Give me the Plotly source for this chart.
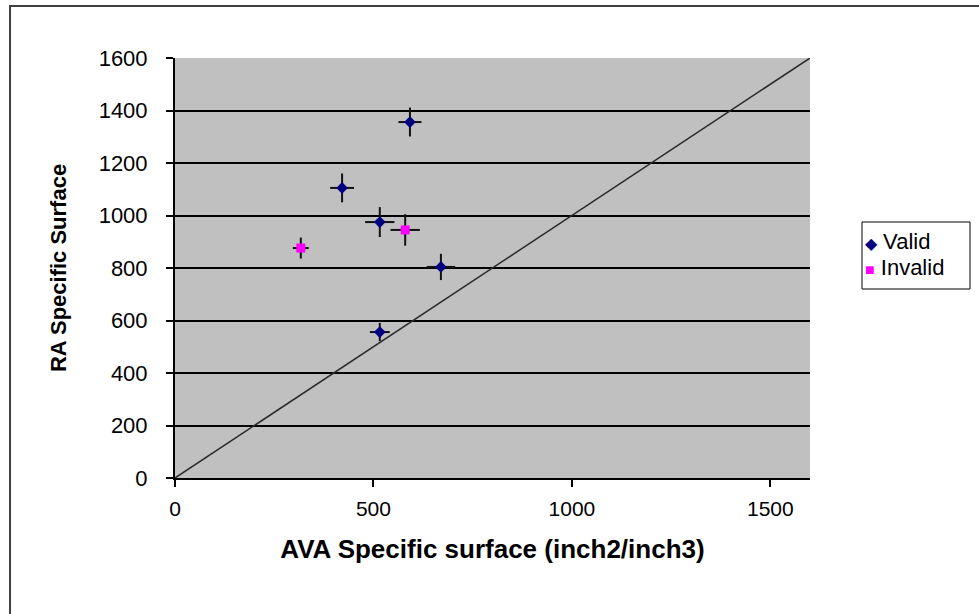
import plotly.graph_objects as go

# Data
valid_x = [592, 421, 516, 670, 516]
valid_y = [1356, 1105, 975, 804, 556]
valid_xerr = [29, 30, 37, 36, 25]
valid_yerr = [55, 55, 57, 50, 35]

invalid_x = [317, 580]
invalid_y = [876, 945]
invalid_xerr = [20, 37]
invalid_yerr = [40, 60]

diag_x = [0, 1600]
diag_y = [0, 1600]

x_ticks = [0, 500, 1000, 1500]
y_ticks = [0, 200, 400, 600, 800, 1000, 1200, 1400, 1600]

series_names = ["Valid", "Invalid"]
series_colors = ["#000080", "#FF00FF"]
series_glyphs = ["\u25C6", "\u25A0"]

fig = go.Figure()

fig.add_trace(go.Scatter(
    x=diag_x, y=diag_y, mode="lines",
    line=dict(color="#2a2a2a", width=1.5),
    showlegend=False, hoverinfo="skip"))

fig.add_trace(go.Scatter(
    x=valid_x, y=valid_y, mode="markers", name=series_names[0],
    marker=dict(symbol="diamond", color=series_colors[0], size=9),
    error_x=dict(type="data", array=valid_xerr, color="#111111", thickness=2, width=0),
    error_y=dict(type="data", array=valid_yerr, color="#111111", thickness=2, width=0)))

fig.add_trace(go.Scatter(
    x=invalid_x, y=invalid_y, mode="markers", name=series_names[1],
    marker=dict(symbol="square", color=series_colors[1], size=9),
    error_x=dict(type="data", array=invalid_xerr, color="#111111", thickness=2, width=0),
    error_y=dict(type="data", array=invalid_yerr, color="#111111", thickness=2, width=0)))

# manual legend (box + entries) placed in paper coordinates
plot_w, plot_h = 635, 420
lx0, lx1 = (862 - 175) / plot_w, (970 - 175) / plot_w
ly1, ly0 = (478 - 222) / plot_h, (478 - 289) / plot_h
entry_y = [(478 - 241) / plot_h, (478 - 267) / plot_h]

annotations = []
for name, col, glyph, yy in zip(series_names, series_colors, series_glyphs, entry_y):
    annotations.append(dict(
        xref="paper", yref="paper", x=(863 - 175) / plot_w, y=yy,
        xanchor="left", yanchor="middle", showarrow=False,
        text=f"<span style='color:{col};font-size:16px'>{glyph}</span> {name}",
        font=dict(family="Arial, Liberation Sans", size=22, color="black")))

fig.update_layout(
    width=979, height=614,
    margin=dict(l=175, r=169, t=58, b=136),
    paper_bgcolor="white",
    plot_bgcolor="#C0C0C0",
    font=dict(family="Arial, Liberation Sans", color="black", size=17),
    showlegend=False,
    annotations=annotations,
    shapes=[
        dict(type="rect", xref="paper", yref="paper",
             x0=-0.2598, x1=1.4, y0=-0.4, y1=1.1238,
             line=dict(color="#404040", width=2), layer="below"),
        dict(type="rect", xref="paper", yref="paper",
             x0=lx0, x1=lx1, y0=ly0, y1=ly1,
             line=dict(color="black", width=1), fillcolor="white", layer="below"),
    ],
)

fig.update_xaxes(
    range=[0, 1600], tickvals=x_ticks, showgrid=False, zeroline=False,
    showline=True, linecolor="black", linewidth=2,
    ticks="outside", ticklen=7, tickwidth=1.5, tickcolor="black",
    tickfont=dict(size=21), ticklabelstandoff=4,
    title=dict(text="<b>AVA Specific surface (inch2/inch3)</b>", font=dict(size=26), standoff=21))

fig.update_yaxes(
    range=[0, 1600], tickvals=y_ticks, showgrid=True, gridcolor="black", gridwidth=2,
    zeroline=False, showline=True, linecolor="black", linewidth=2,
    ticks="outside", ticklen=7, tickwidth=1.5, tickcolor="black",
    tickfont=dict(size=22), ticklabelstandoff=14,
    title=dict(text="<b>RA Specific Surface</b>", font=dict(size=22), standoff=26))

fig.write_html("out.html")
